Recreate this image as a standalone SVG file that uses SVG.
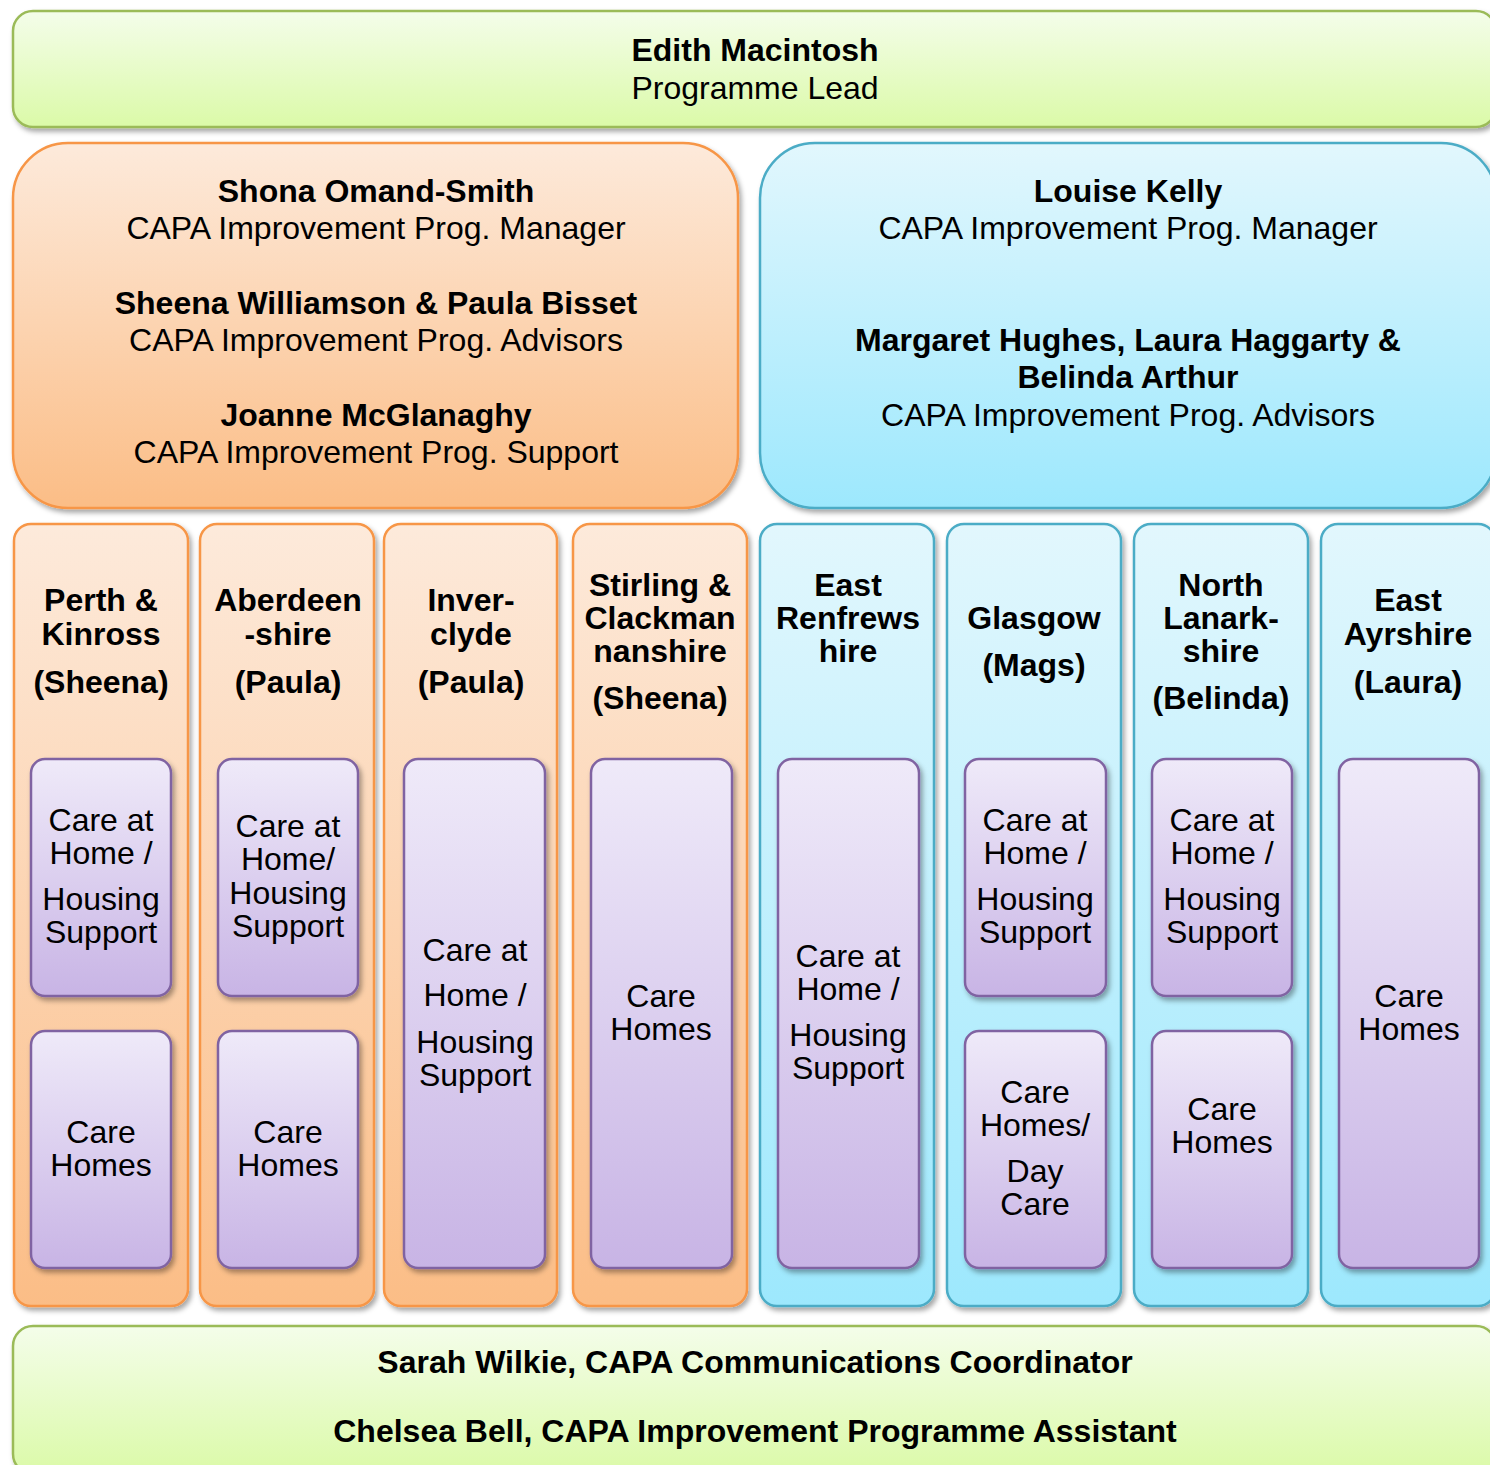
<svg xmlns="http://www.w3.org/2000/svg" width="1490" height="1465" viewBox="0 0 1490 1465">
<defs>
<linearGradient id="gG" x1="0" y1="0" x2="0" y2="1"><stop offset="0" stop-color="#f4fdea"/><stop offset="1" stop-color="#dbfaa8"/></linearGradient>
<linearGradient id="gO" x1="0" y1="0" x2="0" y2="1"><stop offset="0" stop-color="#fdeadb"/><stop offset="1" stop-color="#fbbd86"/></linearGradient>
<linearGradient id="gB" x1="0" y1="0" x2="0" y2="1"><stop offset="0" stop-color="#e2f7fd"/><stop offset="1" stop-color="#9de8fd"/></linearGradient>
<linearGradient id="gP" x1="0" y1="0" x2="0" y2="1"><stop offset="0" stop-color="#efeaf9"/><stop offset="1" stop-color="#c8b4e5"/></linearGradient>
<filter id="sh" x="-10%" y="-10%" width="120%" height="120%"><feDropShadow dx="2.5" dy="3.5" stdDeviation="2.5" flood-color="#000" flood-opacity="0.35"/></filter>
</defs>
<style>
.t{font-family:"Liberation Sans",Arial,sans-serif;font-size:32px;fill:#000;text-anchor:middle}
.b{font-weight:bold}
.green{fill:url(#gG);stroke:#9bbb59;stroke-width:2.5;filter:url(#sh)}
.orange{fill:url(#gO);stroke:#f79646;stroke-width:2.5;filter:url(#sh)}
.blue{fill:url(#gB);stroke:#4bacc6;stroke-width:2.5;filter:url(#sh)}
.purple{fill:url(#gP);stroke:#8064a2;stroke-width:2.5;filter:url(#sh)}
</style>
<rect width="1490" height="1465" fill="#fff"/>

<g id="lead">
<rect class="green" x="13" y="11" width="1483" height="116" rx="20"/>
<text class="t b" x="755" y="61">Edith Macintosh</text>
<text class="t" x="755" y="99">Programme Lead</text>
</g>

<g id="team-east">
<rect class="orange" x="13" y="143" width="725" height="365" rx="55"/>
<text class="t b" x="376" y="202">Shona Omand-Smith</text>
<text class="t" x="376" y="239">CAPA Improvement Prog. Manager</text>
<text class="t b" x="376" y="314">Sheena Williamson &amp; Paula Bisset</text>
<text class="t" x="376" y="351">CAPA Improvement Prog. Advisors</text>
<text class="t b" x="376" y="426">Joanne McGlanaghy</text>
<text class="t" x="376" y="463">CAPA Improvement Prog. Support</text>
</g>

<g id="team-west">
<rect class="blue" x="760" y="143" width="736" height="365" rx="55"/>
<text class="t b" x="1128" y="202">Louise Kelly</text>
<text class="t" x="1128" y="239">CAPA Improvement Prog. Manager</text>
<text class="t b" x="1128" y="351">Margaret Hughes, Laura Haggarty &amp;</text>
<text class="t b" x="1128" y="388">Belinda Arthur</text>
<text class="t" x="1128" y="426">CAPA Improvement Prog. Advisors</text>
</g>

<g id="col-perth">
<rect class="orange" x="14" y="524" width="174" height="782" rx="17"/>
<text class="t b" x="101" y="611">Perth &amp;</text>
<text class="t b" x="101" y="645">Kinross</text>
<text class="t b" x="101" y="693">(Sheena)</text>
<rect class="purple" x="31" y="759" width="140" height="237" rx="14"/>
<text class="t" x="101" y="831">Care at</text>
<text class="t" x="101" y="864">Home /</text>
<text class="t" x="101" y="910">Housing</text>
<text class="t" x="101" y="943">Support</text>
<rect class="purple" x="31" y="1031" width="140" height="237" rx="14"/>
<text class="t" x="101" y="1143">Care</text>
<text class="t" x="101" y="1176">Homes</text>
</g>

<g id="col-aberdeen">
<rect class="orange" x="200" y="524" width="174" height="782" rx="17"/>
<text class="t b" x="288" y="611">Aberdeen</text>
<text class="t b" x="288" y="645">-shire</text>
<text class="t b" x="288" y="693">(Paula)</text>
<rect class="purple" x="218" y="759" width="140" height="237" rx="14"/>
<text class="t" x="288" y="837">Care at</text>
<text class="t" x="288" y="870">Home/</text>
<text class="t" x="288" y="904">Housing</text>
<text class="t" x="288" y="937">Support</text>
<rect class="purple" x="218" y="1031" width="140" height="237" rx="14"/>
<text class="t" x="288" y="1143">Care</text>
<text class="t" x="288" y="1176">Homes</text>
</g>

<g id="col-inverclyde">
<rect class="orange" x="384" y="524" width="173" height="782" rx="17"/>
<text class="t b" x="471" y="611">Inver-</text>
<text class="t b" x="471" y="645">clyde</text>
<text class="t b" x="471" y="693">(Paula)</text>
<rect class="purple" x="404" y="759" width="141" height="509" rx="14"/>
<text class="t" x="475" y="961">Care at</text>
<text class="t" x="475" y="1006">Home /</text>
<text class="t" x="475" y="1053">Housing</text>
<text class="t" x="475" y="1086">Support</text>
</g>

<g id="col-stirling">
<rect class="orange" x="573" y="524" width="174" height="782" rx="17"/>
<text class="t b" x="660" y="596">Stirling &amp;</text>
<text class="t b" x="660" y="629">Clackman</text>
<text class="t b" x="660" y="662">nanshire</text>
<text class="t b" x="660" y="709">(Sheena)</text>
<rect class="purple" x="591" y="759" width="141" height="509" rx="14"/>
<text class="t" x="661" y="1007">Care</text>
<text class="t" x="661" y="1040">Homes</text>
</g>

<g id="col-eastrenfrewshire">
<rect class="blue" x="760" y="524" width="174" height="782" rx="17"/>
<text class="t b" x="848" y="596">East</text>
<text class="t b" x="848" y="629">Renfrews</text>
<text class="t b" x="848" y="662">hire</text>
<rect class="purple" x="778" y="759" width="141" height="509" rx="14"/>
<text class="t" x="848" y="967">Care at</text>
<text class="t" x="848" y="1000">Home /</text>
<text class="t" x="848" y="1046">Housing</text>
<text class="t" x="848" y="1079">Support</text>
</g>

<g id="col-glasgow">
<rect class="blue" x="947" y="524" width="174" height="782" rx="17"/>
<text class="t b" x="1034" y="629">Glasgow</text>
<text class="t b" x="1034" y="676">(Mags)</text>
<rect class="purple" x="965" y="759" width="141" height="237" rx="14"/>
<text class="t" x="1035" y="831">Care at</text>
<text class="t" x="1035" y="864">Home /</text>
<text class="t" x="1035" y="910">Housing</text>
<text class="t" x="1035" y="943">Support</text>
<rect class="purple" x="965" y="1031" width="141" height="237" rx="14"/>
<text class="t" x="1035" y="1103">Care</text>
<text class="t" x="1035" y="1136">Homes/</text>
<text class="t" x="1035" y="1182">Day</text>
<text class="t" x="1035" y="1215">Care</text>
</g>

<g id="col-northlanarkshire">
<rect class="blue" x="1134" y="524" width="174" height="782" rx="17"/>
<text class="t b" x="1221" y="596">North</text>
<text class="t b" x="1221" y="629">Lanark-</text>
<text class="t b" x="1221" y="662">shire</text>
<text class="t b" x="1221" y="709">(Belinda)</text>
<rect class="purple" x="1152" y="759" width="140" height="237" rx="14"/>
<text class="t" x="1222" y="831">Care at</text>
<text class="t" x="1222" y="864">Home /</text>
<text class="t" x="1222" y="910">Housing</text>
<text class="t" x="1222" y="943">Support</text>
<rect class="purple" x="1152" y="1031" width="140" height="237" rx="14"/>
<text class="t" x="1222" y="1120">Care</text>
<text class="t" x="1222" y="1153">Homes</text>
</g>

<g id="col-eastayrshire">
<rect class="blue" x="1321" y="524" width="174" height="782" rx="17"/>
<text class="t b" x="1408" y="611">East</text>
<text class="t b" x="1408" y="645">Ayrshire</text>
<text class="t b" x="1408" y="693">(Laura)</text>
<rect class="purple" x="1339" y="759" width="140" height="509" rx="14"/>
<text class="t" x="1409" y="1007">Care</text>
<text class="t" x="1409" y="1040">Homes</text>
</g>

<g id="support">
<rect class="green" x="13" y="1326" width="1483" height="148" rx="20"/>
<text class="t b" x="755" y="1373">Sarah Wilkie, CAPA Communications Coordinator</text>
<text class="t b" x="755" y="1442">Chelsea Bell, CAPA Improvement Programme Assistant</text>
</g>

<g id="connectors"></g>
</svg>
